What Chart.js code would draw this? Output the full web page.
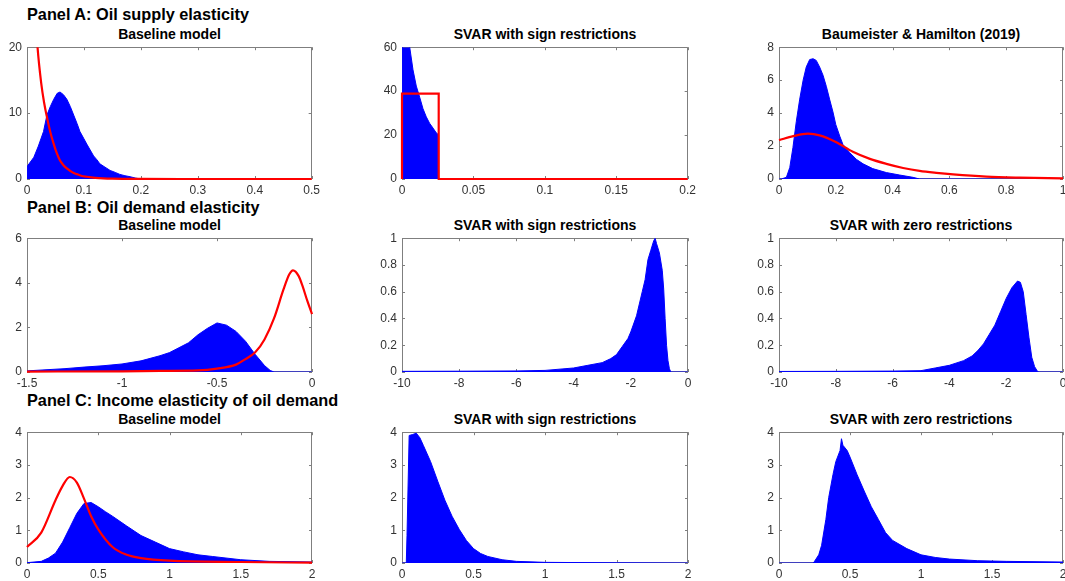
<!DOCTYPE html>
<html>
<head>
<meta charset="utf-8">
<script src="https://cdn.jsdelivr.net/npm/chart.js@4.4.1/dist/chart.umd.min.js"></script>
<style>
    body { margin: 0; width: 1065px; height: 581px; overflow: hidden; position: relative; background: #fff;
           font-family: "Liberation Sans", Arial, sans-serif; }
    .head { position: absolute; left: 27px; font-weight: bold; font-size: 16.3px; line-height: 16px; color: #000; white-space: nowrap; }
    .sub { position: absolute; font-weight: bold; font-size: 14px; line-height: 14px; color: #000; white-space: nowrap; text-align: center; }
    canvas { position: absolute; }
</style>
</head>
<body>
<div class="head" style="top:6px">Panel A: Oil supply elasticity</div>
<div class="head" style="top:199px">Panel B: Oil demand elasticity</div>
<div class="head" style="top:392px">Panel C: Income elasticity of oil demand</div>
<script>
// ---- data ----
var titles = [
    'Baseline model', 'SVAR with sign restrictions', 'Baumeister & Hamilton (2019)',
    'Baseline model', 'SVAR with sign restrictions', 'SVAR with zero restrictions',
    'Baseline model', 'SVAR with sign restrictions', 'SVAR with zero restrictions'
];

// Panel A
var a1HistX = [0, 0.001, 0.012, 0.02, 0.029, 0.035, 0.041, 0.047, 0.053, 0.058, 0.064, 0.07, 0.076, 0.082, 0.088, 0.093, 0.1, 0.105, 0.111, 0.117, 0.123, 0.128, 0.137, 0.146, 0.155, 0.163, 0.172, 0.181, 0.19, 0.2];
var a1HistY = [0, 2.0, 3.3, 5.0, 7.2, 9.7, 11.0, 12.1, 13.0, 13.2, 12.8, 12.1, 11.0, 9.7, 8.4, 7.2, 6.1, 5.3, 4.4, 3.5, 2.9, 2.3, 1.8, 1.3, 1.0, 0.7, 0.5, 0.35, 0.15, 0];
var a1PriorX = [0.012, 0.0185, 0.025, 0.03, 0.035, 0.041, 0.047, 0.052, 0.058, 0.064, 0.07, 0.08, 0.0875, 0.095, 0.105, 0.12, 0.15, 0.2, 0.3, 0.4, 0.5];
var a1PriorY = [29, 20, 14.5, 11.6, 9.4, 7.1, 5.3, 4.0, 2.8, 2.1, 1.6, 1.0, 0.74, 0.5, 0.34, 0.18, 0.05, 0.01, 0, 0, 0];

var a2HistX = [0, 0.0003, 0.004, 0.0054, 0.0077, 0.010, 0.0124, 0.0147, 0.017, 0.0193, 0.0217, 0.024, 0.0255, 0.0256, 0.2];
var a2HistY = [0, 70, 66, 60, 49.7, 42.3, 37.2, 32, 28.3, 25.4, 23.2, 21, 20.2, 0, 0];
var a2PriorX = [0, 0, 0.0257, 0.0257, 0.2];
var a2PriorY = [0, 38.9, 38.9, 0, 0];

var a3HistX = [0, 0.008, 0.026, 0.038, 0.049, 0.061, 0.073, 0.085, 0.096, 0.108, 0.12, 0.131, 0.143, 0.155, 0.167, 0.178, 0.19, 0.2, 0.214, 0.225, 0.249, 0.272, 0.296, 0.33, 0.378, 0.425, 0.472, 0.495, 1];
var a3HistY = [0, 0, 0.1, 0.7, 1.9, 3.5, 4.85, 6.0, 6.8, 7.25, 7.3, 7.2, 6.8, 6.3, 5.6, 4.85, 4.07, 3.3, 2.6, 2.1, 1.6, 1.2, 0.92, 0.63, 0.39, 0.24, 0.1, 0, 0];
var a3PriorX = [0, 0.05, 0.102, 0.143, 0.2, 0.26, 0.32, 0.378, 0.437, 0.495, 0.554, 0.613, 0.73, 0.847, 1];
var a3PriorY = [2.36, 2.6, 2.75, 2.65, 2.25, 1.65, 1.22, 0.92, 0.67, 0.49, 0.37, 0.275, 0.14, 0.08, 0.04];

// Panel B
var b1HistX = [-1.5, -1.4, -1.3, -1.2, -1.1, -1.0, -0.9, -0.8, -0.75, -0.7, -0.65, -0.6, -0.55, -0.5, -0.45, -0.4, -0.35, -0.3, -0.25, -0.22, -0.2, 0];
var b1HistY = [0.05, 0.1, 0.15, 0.22, 0.28, 0.36, 0.5, 0.73, 0.87, 1.09, 1.31, 1.67, 1.96, 2.2, 2.1, 1.82, 1.38, 0.8, 0.29, 0.07, 0, 0];
var b1PriorX = [-1.5, -1.0, -0.8, -0.6, -0.5, -0.4, -0.35, -0.3, -0.25, -0.2, -0.15, -0.12, -0.1, -0.07, -0.05, -0.025, 0];
var b1PriorY = [0.02, 0.03, 0.05, 0.07, 0.15, 0.33, 0.58, 0.87, 1.46, 2.4, 3.7, 4.37, 4.56, 4.3, 3.86, 3.2, 2.6];

var b2HistX = [-10, -8, -6, -5, -4, -3.5, -3, -2.7, -2.5, -2.3, -2.1, -2, -1.8, -1.6, -1.5, -1.4, -1.3, -1.2, -1.15, -1.1, -1.0, -0.9, -0.85, -0.8, -0.75, -0.7, -0.65, -0.6, 0];
var b2HistY = [0.005, 0.006, 0.008, 0.012, 0.03, 0.05, 0.07, 0.1, 0.13, 0.19, 0.25, 0.3, 0.42, 0.6, 0.69, 0.84, 0.91, 0.98, 1.0, 0.96, 0.89, 0.76, 0.62, 0.4, 0.2, 0.085, 0.024, 0, 0];

var b3HistX = [-10, -8, -6, -5, -4.5, -4, -3.5, -3.2, -3, -2.8, -2.6, -2.4, -2.2, -2.0, -1.8, -1.6, -1.5, -1.4, -1.3, -1.2, -1.1, -1.0, -0.9, -0.85, 0];
var b3HistY = [0.004, 0.005, 0.007, 0.01, 0.03, 0.05, 0.085, 0.12, 0.16, 0.21, 0.28, 0.35, 0.45, 0.55, 0.63, 0.68, 0.67, 0.6, 0.43, 0.26, 0.11, 0.04, 0.005, 0, 0];

// Panel C
var c1HistX = [0, 0.1, 0.15, 0.2, 0.25, 0.3, 0.35, 0.4, 0.45, 0.5, 0.55, 0.6, 0.7, 0.8, 0.9, 1.0, 1.1, 1.2, 1.3, 1.5, 1.7, 2.0];
var c1HistY = [0.01, 0.05, 0.15, 0.3, 0.64, 1.08, 1.52, 1.82, 1.85, 1.72, 1.57, 1.43, 1.13, 0.84, 0.64, 0.44, 0.34, 0.25, 0.2, 0.1, 0.05, 0.03];
var c1PriorX = [0, 0.1, 0.2, 0.25, 0.3, 0.35, 0.4, 0.45, 0.5, 0.6, 0.7, 0.8, 1.0, 1.5, 2.0];
var c1PriorY = [0.49, 0.93, 1.92, 2.36, 2.63, 2.46, 1.97, 1.43, 1.03, 0.49, 0.25, 0.15, 0.07, 0.03, 0.01];

var c2HistX = [0, 0.03, 0.035, 0.05, 0.075, 0.1, 0.125, 0.15, 0.2, 0.25, 0.3, 0.35, 0.4, 0.45, 0.5, 0.55, 0.6, 0.7, 0.8, 1.0, 1.5, 2.0];
var c2HistY = [0, 0, 0.84, 3.9, 3.93, 3.97, 3.83, 3.59, 3.1, 2.5, 1.92, 1.43, 1.03, 0.69, 0.44, 0.29, 0.2, 0.1, 0.05, 0.02, 0.005, 0];

var c3HistX = [0, 0.24, 0.25, 0.28, 0.3, 0.33, 0.35, 0.38, 0.4, 0.43, 0.44, 0.45, 0.48, 0.5, 0.55, 0.6, 0.65, 0.7, 0.75, 0.8, 0.9, 1.0, 1.1, 1.2, 1.4, 1.6, 2.0];
var c3HistY = [0, 0, 0.05, 0.25, 0.54, 1.33, 2.0, 2.7, 3.1, 3.44, 3.8, 3.6, 3.44, 3.24, 2.7, 2.2, 1.72, 1.33, 0.93, 0.69, 0.44, 0.25, 0.17, 0.12, 0.07, 0.05, 0.03];

// tick labels
var xTicksA1 = [0, 0.1, 0.2, 0.3, 0.4, 0.5];
var xTicksA2 = [0, 0.05, 0.1, 0.15, 0.2];
var xTicksA3 = [0, 0.2, 0.4, 0.6, 0.8, 1];
var xTicksB1 = [-1.5, -1, -0.5, 0];
var xTicksB23 = [-10, -8, -6, -4, -2, 0];
var xTicksC = [0, 0.5, 1, 1.5, 2];
var yTicksA1 = [0, 10, 20];
var yTicksA2 = [0, 20, 40, 60];
var yTicksA3 = [0, 2, 4, 6, 8];
var yTicksB1 = [0, 2, 4, 6];
var yTicksB23 = [0, 0.2, 0.4, 0.6, 0.8, 1];
var yTicksC = [0, 1, 2, 3, 4];

// ---- layout ----
var colLeft = [27, 402, 779];
var colRight = [312, 688, 1063];
var rowTop = [43, 234, 428];
var rowBottom = [179, 372, 563];
var subTop = [27, 218, 412];

var PAD_TOP = 8, PAD_RIGHT = 12, Y_AXIS_W = 30, X_AXIS_H = 24;

function pts(xs, ys) {
    return xs.map(function(x, i) { return { x: x, y: ys[i] }; });
}

// matlab-like box with inward ticks on all four sides (drawn under the data)
var boxPlugin = {
    id: 'boxPlugin',
    beforeDatasetsDraw: function(chart) {
        var ctx = chart.ctx, a = chart.chartArea;
        var sx = chart.scales.x, sy = chart.scales.y;
        var L = 3;
        ctx.save();
        ctx.strokeStyle = '#7f7f7f';
        ctx.lineWidth = 1;
        ctx.beginPath();
        ctx.rect(Math.round(a.left) + 0.5, Math.round(a.top) + 0.5, Math.round(a.width) - 1, Math.round(a.height) - 1);
        sx.ticks.forEach(function(t) {
            var px = Math.round(sx.getPixelForValue(t.value)) + 0.5;
            ctx.moveTo(px, a.bottom); ctx.lineTo(px, a.bottom - L);
            ctx.moveTo(px, a.top); ctx.lineTo(px, a.top + L);
        });
        sy.ticks.forEach(function(t) {
            var py = Math.round(sy.getPixelForValue(t.value)) + 0.5;
            ctx.moveTo(a.left, py); ctx.lineTo(a.left + L, py);
            ctx.moveTo(a.right, py); ctx.lineTo(a.right - L, py);
        });
        ctx.stroke();
        ctx.restore();
    }
};

function axis(min, max, ticks, isY) {
    return {
        type: 'linear',
        min: min,
        max: max,
        grid: { display: false, drawTicks: false },
        border: { display: false },
        afterBuildTicks: function(scale) {
            scale.ticks = ticks.map(function(v) { return { value: v }; });
        },
        afterFit: function(scale) {
            if (isY) scale.width = Y_AXIS_W; else scale.height = X_AXIS_H;
        },
        ticks: {
            autoSkip: false,
            maxRotation: 0,
            padding: isY ? 5 : 4,
            color: '#333333',
            font: { family: '"Liberation Sans", Arial, sans-serif', size: 12 },
            callback: function(v) { return String(v); }
        }
    };
}

function makePanel(idx, hist, prior, xr, xt, yr, yt) {
    var col = idx % 3, row = Math.floor(idx / 3);
    var pl = colLeft[col], pr = colRight[col], pt = rowTop[row], pb = rowBottom[row];

    var sub = document.createElement('div');
    sub.className = 'sub';
    sub.style.left = pl + 'px';
    sub.style.width = (pr - pl) + 'px';
    sub.style.top = subTop[row] + 'px';
    sub.textContent = titles[idx];
    document.body.appendChild(sub);

    var cv = document.createElement('canvas');
    var w = (pr - pl) + Y_AXIS_W + PAD_RIGHT;
    var h = (pb - pt) + PAD_TOP + X_AXIS_H;
    cv.width = w; cv.height = h;
    cv.style.width = w + 'px'; cv.style.height = h + 'px';
    cv.style.left = (pl - Y_AXIS_W) + 'px';
    cv.style.top = (pt - PAD_TOP) + 'px';
    document.body.appendChild(cv);

    // posterior histogram underneath, prior density on top
    var datasets = [{
        data: hist,
        order: 2,
        borderColor: '#0000ff',
        backgroundColor: '#0000ff',
        borderWidth: 1,
        fill: 'origin',
        pointRadius: 0,
        tension: 0
    }];
    if (prior) {
        datasets.push({
            data: prior,
            order: 1,
            borderColor: '#ff0000',
            borderWidth: 2.2,
            fill: false,
            pointRadius: 0,
            cubicInterpolationMode: 'monotone',
            clip: { left: 2, top: 0, right: 2, bottom: 2 }
        });
    }

    new Chart(cv, {
        type: 'line',
        data: { datasets: datasets },
        options: {
            responsive: false,
            animation: false,
            devicePixelRatio: 1,
            layout: { padding: { top: PAD_TOP, right: PAD_RIGHT, left: 0, bottom: 0 } },
            plugins: { legend: { display: false }, tooltip: { enabled: false } },
            scales: {
                x: axis(xr[0], xr[1], xt, false),
                y: axis(yr[0], yr[1], yt, true)
            }
        },
        plugins: [boxPlugin]
    });
}

makePanel(0, pts(a1HistX, a1HistY), pts(a1PriorX, a1PriorY), [0, 0.5], xTicksA1, [0, 20], yTicksA1);
makePanel(1, pts(a2HistX, a2HistY), pts(a2PriorX, a2PriorY), [0, 0.2], xTicksA2, [0, 60], yTicksA2);
makePanel(2, pts(a3HistX, a3HistY), pts(a3PriorX, a3PriorY), [0, 1], xTicksA3, [0, 8], yTicksA3);
makePanel(3, pts(b1HistX, b1HistY), pts(b1PriorX, b1PriorY), [-1.5, 0], xTicksB1, [0, 6], yTicksB1);
makePanel(4, pts(b2HistX, b2HistY), null, [-10, 0], xTicksB23, [0, 1], yTicksB23);
makePanel(5, pts(b3HistX, b3HistY), null, [-10, 0], xTicksB23, [0, 1], yTicksB23);
makePanel(6, pts(c1HistX, c1HistY), pts(c1PriorX, c1PriorY), [0, 2], xTicksC, [0, 4], yTicksC);
makePanel(7, pts(c2HistX, c2HistY), null, [0, 2], xTicksC, [0, 4], yTicksC);
makePanel(8, pts(c3HistX, c3HistY), null, [0, 2], xTicksC, [0, 4], yTicksC);
</script>
</body>
</html>
